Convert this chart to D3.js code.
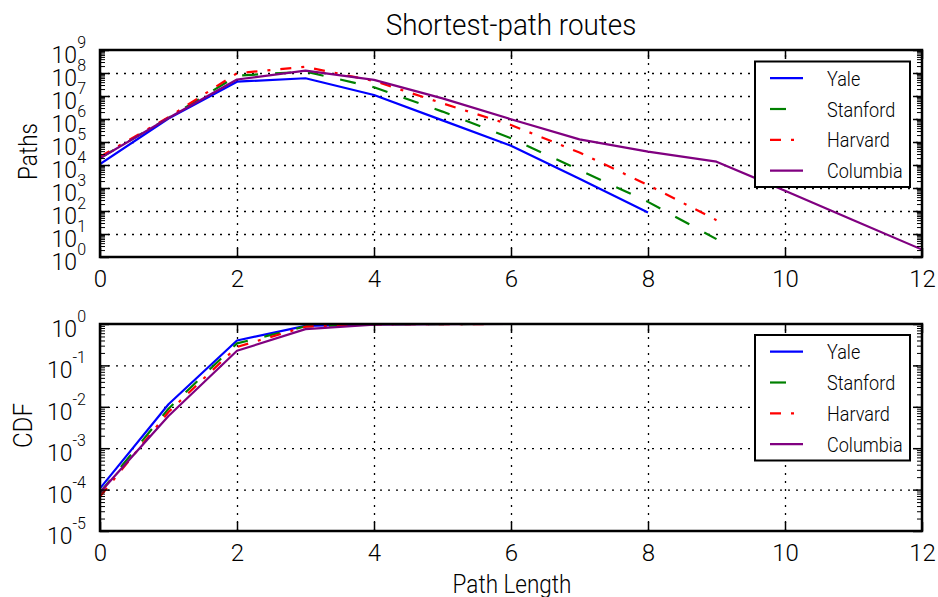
<!DOCTYPE html>
<html>
<head>
<meta charset="utf-8">
<script src="https://cdn.jsdelivr.net/npm/d3@7"></script>
<style>
  body { margin: 0; background: #fff; }
  svg { display: block; }
  text { font-family: Roboto, "Open Sans", sans-serif; font-weight: 300; fill: #000; }
</style>
</head>
<body>
<svg id="chart" width="938" height="597"></svg>
<script>
// Path length (number of hops)
const lengths = [0, 1, 2, 3, 4, 5, 6, 7, 8, 9, 10, 11, 12];
const universities = ["Yale", "Stanford", "Harvard", "Columbia"];

// Number of shortest paths of each length
const yalePaths     = [1.1e4, 1.05e6, 4.2e7, 5.9e7, 1.1e7, 8.7e5, 6.9e4, 2.5e3, 87];
const stanfordPaths = [2.0e4, 1.12e6, 7.6e7, 1.15e8, 2.4e7, 2.1e6, 1.45e5, 6.0e3, 250, 6];
const harvardPaths  = [2.3e4, 1.2e6, 9.8e7, 1.86e8, 4.5e7, 4.8e6, 5.5e5, 3.5e4, 1.35e3, 40];
const columbiaPaths = [1.95e4, 1.1e6, 5.2e7, 1.26e8, 5.0e7, 7.9e6, 9.8e5, 1.3e5, 3.8e4, 1.4e4, 760, 40, 2.1];

// Cumulative distribution of path lengths
const yaleCdf     = [1.07e-4, 1.15e-2, 0.40, 0.90, 0.992, 0.9993, 0.99995, 1, 1];
const stanfordCdf = [8.5e-5, 9.0e-3, 0.34, 0.88, 0.988, 0.998, 0.9998, 1, 1, 1];
const harvardCdf  = [6.8e-5, 7.5e-3, 0.28, 0.86, 0.98, 0.997, 0.9996, 0.99998, 1, 1];
const columbiaCdf = [8.5e-5, 6.0e-3, 0.225, 0.75, 0.96, 0.993, 0.9992, 0.9998, 0.99994, 0.99999, 1, 1, 1];

// Tick values
const xTicks = [0, 2, 4, 6, 8, 10, 12];
const pathExponents = [0, 1, 2, 3, 4, 5, 6, 7, 8, 9];
const cdfExponents = [-5, -4, -3, -2, -1, 0];

const pathSeries = [yalePaths, stanfordPaths, harvardPaths, columbiaPaths];
const cdfSeries = [yaleCdf, stanfordCdf, harvardCdf, columbiaCdf];

const styles = {
  Yale:     { color: "#0000ff", dash: null },
  Stanford: { color: "#008000", dash: "16,17" },
  Harvard:  { color: "#ff0000", dash: "11,10,3,10" },
  Columbia: { color: "#800080", dash: null }
};

const svg = d3.select("#chart");
const left = 100, right = 922;
const x = d3.scaleLinear().domain([0, 12]).range([left, right]);

function minorValues(exps) {
  const out = [];
  for (let i = 0; i < exps.length - 1; i++) {
    for (let m = 2; m <= 9; m++) out.push(m * Math.pow(10, exps[i]));
  }
  return out;
}

function drawPanel(opts) {
  const { top, bottom, exps, data, id } = opts;
  const y = d3.scaleLog()
    .domain([Math.pow(10, exps[0]), Math.pow(10, exps[exps.length - 1])])
    .range([bottom, top]);
  const decades = exps.map(e => Math.pow(10, e));
  const h = bottom - top;
  const g = svg.append("g");

  // dotted grid
  const gx = g.append("g").attr("transform", `translate(0,${bottom})`)
    .call(d3.axisBottom(x).tickValues(xTicks.slice(1, -1)).tickSize(-h).tickFormat(""));
  const gy = g.append("g").attr("transform", `translate(${left},0)`)
    .call(d3.axisLeft(y).tickValues(decades.slice(1, -1)).tickSize(-(right - left)).tickFormat(""));
  [gx, gy].forEach(a => {
    a.select(".domain").remove();
    a.selectAll(".tick line").attr("stroke", "#000").attr("stroke-width", 1.3).attr("stroke-dasharray", "2,6");
  });

  // series lines
  g.append("clipPath").attr("id", id).append("rect")
    .attr("x", left).attr("y", top).attr("width", right - left).attr("height", h);
  const line = d3.line().x((d, i) => x(lengths[i])).y(d => y(d));
  const lines = g.append("g").attr("clip-path", `url(#${id})`);
  data.forEach((vals, k) => {
    const st = styles[universities[k]];
    lines.append("path").datum(vals)
      .attr("d", line)
      .attr("fill", "none")
      .attr("stroke", st.color)
      .attr("stroke-width", 2.2)
      .attr("stroke-linejoin", "round")
      .attr("stroke-dasharray", st.dash);
  });

  // ticks pointing inward on all four sides
  const tickStyle = a => {
    a.select(".domain").remove();
    a.selectAll(".tick line").attr("stroke", "#000").attr("stroke-width", 1.5);
  };
  const bottomAxis = g.append("g").attr("transform", `translate(0,${bottom})`)
    .call(d3.axisBottom(x).tickValues(xTicks).tickSizeInner(-9).tickSizeOuter(0).tickFormat(d3.format("d")));
  tickStyle(bottomAxis);
  bottomAxis.selectAll(".tick text").attr("dy", null).attr("y", 30)
    .attr("font-size", 24).attr("font-family", "Roboto, sans-serif").attr("font-weight", 300);

  const topAxis = g.append("g").attr("transform", `translate(0,${top})`)
    .call(d3.axisTop(x).tickValues(xTicks).tickSizeInner(-9).tickSizeOuter(0).tickFormat(""));
  tickStyle(topAxis);

  const leftAxis = g.append("g").attr("transform", `translate(${left},0)`)
    .call(d3.axisLeft(y).tickValues(decades).tickSizeInner(-9).tickSizeOuter(0).tickPadding(14));
  tickStyle(leftAxis);
  leftAxis.selectAll(".tick text").each(function (d) {
    const e = Math.round(Math.log10(d));
    const t = d3.select(this).text(null).attr("dy", null).attr("y", 12.5)
      .attr("font-family", "Roboto, sans-serif").attr("font-weight", 300);
    t.append("tspan").attr("font-size", 23).text("10");
    t.append("tspan").attr("font-size", 16).attr("dy", -15).text(String(e));
  });

  const rightAxis = g.append("g").attr("transform", `translate(${right},0)`)
    .call(d3.axisRight(y).tickValues(decades).tickSizeInner(-9).tickSizeOuter(0).tickFormat(""));
  tickStyle(rightAxis);

  const minors = minorValues(exps);
  [[d3.axisLeft, left], [d3.axisRight, right]].forEach(([ax, pos]) => {
    const m = g.append("g").attr("transform", `translate(${pos},0)`)
      .call(ax(y).tickValues(minors).tickSizeInner(-5).tickSizeOuter(0).tickFormat(""));
    m.select(".domain").remove();
    m.selectAll(".tick line").attr("stroke", "#000").attr("stroke-width", 1);
  });

  // frame
  g.append("rect").attr("x", left).attr("y", top).attr("width", right - left).attr("height", h)
    .attr("fill", "none").attr("stroke", "#000").attr("stroke-width", 2.5);

  // legend
  const lg = g.append("g").attr("transform", `translate(755,${opts.legendTop})`);
  lg.append("rect").attr("width", 155).attr("height", 125.5)
    .attr("fill", "#fff").attr("stroke", "#000").attr("stroke-width", 2);
  universities.forEach((name, i) => {
    const st = styles[name];
    const ry = 16.7 + i * 30.8;
    lg.append("line").attr("x1", 15).attr("x2", 48).attr("y1", ry).attr("y2", ry)
      .attr("stroke", st.color).attr("stroke-width", 2.2).attr("stroke-dasharray", st.dash);
    lg.append("text").attr("transform", `translate(72,${ry + 7.5}) scale(0.86,1)`)
      .attr("font-size", 21).text(name);
  });

  // y axis label
  g.append("text")
    .attr("transform", `translate(${opts.labelX},${(top + bottom) / 2 - 2}) rotate(-90) scale(${opts.labelScale},1)`)
    .attr("text-anchor", "middle").attr("font-size", 25).text(opts.label);
}

drawPanel({ id: "clip-paths", top: 50, bottom: 257, exps: pathExponents, data: pathSeries,
            legendTop: 61.5, label: "Paths", labelX: 37, labelScale: 0.9 });
drawPanel({ id: "clip-cdf", top: 324, bottom: 531, exps: cdfExponents, data: cdfSeries,
            legendTop: 335, label: "CDF", labelX: 32, labelScale: 0.97 });

// title and x label
svg.append("text").attr("transform", "translate(511,35) scale(0.96,1)")
  .attr("text-anchor", "middle").attr("font-size", 29).text("Shortest-path routes");
svg.append("text").attr("transform", "translate(512,593) scale(0.9,1)")
  .attr("text-anchor", "middle").attr("font-size", 25).text("Path Length");
</script>
</body>
</html>
